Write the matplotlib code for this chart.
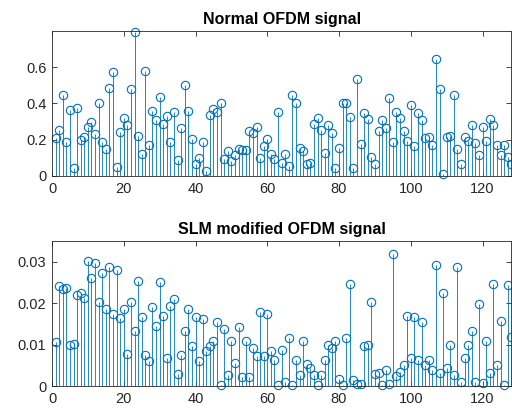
import numpy as np
import matplotlib
matplotlib.use('Agg')
import matplotlib.pyplot as plt

plt.rcParams['font.family'] = ['Liberation Sans', 'DejaVu Sans']

# sample index 1..128
n = np.arange(1, 129)

normal_sig = [
    0.209, 0.254, 0.444, 0.185, 0.365, 0.046, 0.376, 0.198, 0.213, 0.272,
    0.296, 0.231, 0.402, 0.190, 0.150, 0.487, 0.574, 0.050, 0.243, 0.318,
    0.281, 0.478, 0.794, 0.222, 0.120, 0.580, 0.172, 0.359, 0.311, 0.433,
    0.287, 0.333, 0.190, 0.352, 0.089, 0.263, 0.502, 0.361, 0.206, 0.065,
    0.100, 0.185, 0.028, 0.337, 0.370, 0.352, 0.402, 0.096, 0.135, 0.083,
    0.115, 0.148, 0.143, 0.143, 0.246, 0.235, 0.272, 0.100, 0.163, 0.202,
    0.120, 0.096, 0.352, 0.074, 0.120, 0.056, 0.444, 0.402, 0.152, 0.139,
    0.065, 0.074, 0.287, 0.320, 0.254, 0.124, 0.283, 0.235, 0.043, 0.157,
    0.404, 0.404, 0.324, 0.046, 0.537, 0.176, 0.348, 0.315, 0.106, 0.068,
    0.250, 0.306, 0.265, 0.431, 0.187, 0.355, 0.320, 0.246, 0.191, 0.393,
    0.165, 0.348, 0.306, 0.209, 0.213, 0.170, 0.644, 0.481, 0.010, 0.217,
    0.222, 0.446, 0.150, 0.065, 0.217, 0.191, 0.281, 0.180, 0.115, 0.269,
    0.191, 0.315, 0.281, 0.170, 0.117, 0.172, 0.106, 0.065,
]

slm_sig = [
    0.0107, 0.0241, 0.0235, 0.0237, 0.0098, 0.0102, 0.0219, 0.0225, 0.0213, 0.0302,
    0.0261, 0.0298, 0.0202, 0.0272, 0.0187, 0.0288, 0.0173, 0.0281, 0.0165, 0.0185,
    0.0077, 0.0202, 0.0132, 0.0253, 0.0167, 0.0074, 0.0061, 0.0190, 0.0145, 0.0250,
    0.0169, 0.0068, 0.0193, 0.0209, 0.0030, 0.0076, 0.0132, 0.0187, 0.0097, 0.0166,
    0.0060, 0.0162, 0.0084, 0.0096, 0.0109, 0.0155, 0.0003, 0.0137, 0.0027, 0.0109,
    0.0056, 0.0143, 0.0021, 0.0109, 0.0021, 0.0093, 0.0072, 0.0178, 0.0072, 0.0173,
    0.0084, 0.0062, 0.0003, 0.0086, 0.0010, 0.0116, 0.0003, 0.0062, 0.0027, 0.0109,
    0.0054, 0.0044, 0.0026, 0.0003, 0.0026, 0.0062, 0.0098, 0.0093, 0.0109, 0.0018,
    0.0003, 0.0115, 0.0246, 0.0015, 0.0006, 0.0004, 0.0096, 0.0098, 0.0202, 0.0030,
    0.0031, 0.0003, 0.0038, 0.0004, 0.0319, 0.0025, 0.0035, 0.0050, 0.0169, 0.0068,
    0.0166, 0.0062, 0.0155, 0.0050, 0.0062, 0.0038, 0.0292, 0.0032, 0.0225, 0.0044,
    0.0100, 0.0026, 0.0288, 0.0010, 0.0068, 0.0100, 0.0132, 0.0010, 0.0199, 0.0007,
    0.0108, 0.0031, 0.0246, 0.0050, 0.0156, 0.0003, 0.0244, 0.0119,
]

blue = '#0072BD'
dark = '#262626'

fig = plt.figure(figsize=(5.12, 4.16), dpi=100)
ax1 = fig.add_axes([0.1016, 0.577, 0.897, 0.3486])
ax2 = fig.add_axes([0.1016, 0.072, 0.897, 0.3486])


def draw_stem(ax, y, title, ylim, yticks, yticklabels):
    markerline, stemlines, baseline = ax.stem(n, y, basefmt=' ')
    markerline.set_marker('o')
    markerline.set_markersize(6)
    markerline.set_markerfacecolor('none')
    markerline.set_markeredgecolor(blue)
    markerline.set_markeredgewidth(0.8)
    markerline.set_clip_on(False)
    stemlines.set_color(blue)
    stemlines.set_linewidth(0.6)
    ax.set_xlim(0, 128)
    ax.set_ylim(*ylim)
    ax.set_xticks(range(0, 121, 20))
    ax.set_yticks(yticks)
    ax.set_yticklabels(yticklabels)
    ax.tick_params(direction='in', top=True, right=True, length=3.5,
                   width=0.6, colors=dark, labelsize=10.5, pad=4)
    for sp in ax.spines.values():
        sp.set_color(dark)
        sp.set_linewidth(0.6)
    ax.set_title(title, fontsize=11.5, fontweight='bold', color='black', pad=5)


draw_stem(ax1, normal_sig, 'Normal OFDM signal', (0, 0.8),
          [0, 0.2, 0.4, 0.6], ['0', '0.2', '0.4', '0.6'])
draw_stem(ax2, slm_sig, 'SLM modified OFDM signal', (0, 0.035),
          [0, 0.01, 0.02, 0.03], ['0', '0.01', '0.02', '0.03'])

fig.savefig('out.png', dpi=100)
